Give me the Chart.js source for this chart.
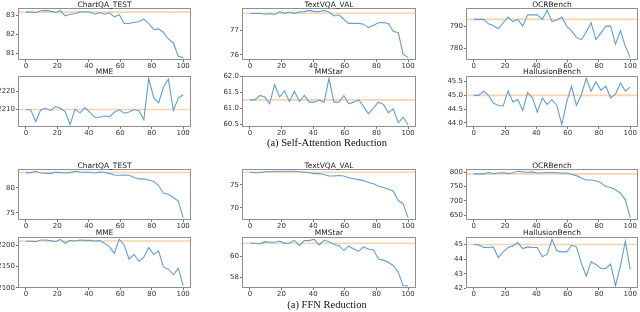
<!DOCTYPE html>
<html>
<head>
<meta charset="utf-8">
<script src="https://cdn.jsdelivr.net/npm/chart.js@4/dist/chart.umd.min.js"></script>
<style>
body { margin:0; width:640px; height:312px; overflow:hidden; background:#fff; position:relative; }
canvas { position:absolute; }
.titulo { position:absolute; font-family:"DejaVu Sans"; font-size:7.5px; color:#222; text-align:center; line-height:9px; }
.legenda { position:absolute; font-family:"Liberation Serif"; font-size:10.5px; color:#111; text-align:center; width:300px; line-height:12px; }
</style>
</head>
<body>
<script>
// dados
const passos = [0, 3.1, 6.3, 9.4, 12.5, 15.6, 18.8, 21.9, 25, 28.1, 31.3, 34.4, 37.5, 40.6, 43.8, 46.9,
  50, 53.1, 56.3, 59.4, 62.5, 65.6, 68.8, 71.9, 75, 78.1, 81.3, 84.4, 87.5, 90.6, 93.8, 96.9, 100]
const xTicks = [0, 20, 40, 60, 80, 100]

// Self-Attention
const sa_chartqa = [83.16, 83.16, 83.14, 83.23, 83.25, 83.21, 83.14, 83.23, 82.96, 83.05, 83.07, 83.18, 83.18, 83.16, 83.05, 83.14,
  83.05, 83.12, 82.91, 83.02, 82.56, 82.56, 82.63, 82.65, 82.79, 82.56, 82.25, 82.28, 82.09, 81.75, 81.54, 80.84, 80.77]
const sa_textvqa = [77.68, 77.68, 77.69, 77.65, 77.67, 77.64, 77.76, 77.69, 77.74, 77.69, 77.75, 77.76, 77.81, 77.76, 77.76, 77.81,
  77.74, 77.58, 77.63, 77.44, 77.28, 77.28, 77.28, 77.25, 77.11, 77.21, 77.31, 77.32, 77.28, 76.96, 76.90, 76.03, 75.89]
const sa_ocr = [793, 793, 793, 791, 790.3, 788.8, 791.5, 794, 792, 793, 790, 795, 795, 795, 793, 797,
  792, 792.7, 794, 790, 788, 785, 784, 787.4, 791.5, 784, 787, 790, 790, 782, 788, 781, 776]
const sa_mme = [2210, 2209.8, 2203.5, 2209.8, 2210.7, 2209.5, 2211.6, 2210.7, 2208.9, 2201.8, 2210.2, 2208.2, 2210.9, 2208.6, 2205.8, 2205.8,
  2206.5, 2206.2, 2208.5, 2210, 2208, 2208.7, 2210, 2209.3, 2204.5, 2226.9, 2216.4, 2213.6, 2222.2, 2226.5, 2209.5, 2216.2, 2218]
const sa_mmstar = [61.26, 61.26, 61.40, 61.35, 61.14, 61.74, 61.35, 61.54, 61.21, 61.53, 61.21, 61.40, 61.19, 61.19, 61.26, 61.19,
  61.94, 61.19, 61.19, 61.40, 61.14, 61.19, 61.26, 61.05, 60.82, 61.01, 61.19, 61.12, 60.86, 60.98, 60.54, 60.72, 60.48]
const sa_hallusion = [45.0, 45.0, 45.15, 45.0, 44.72, 44.63, 44.61, 45.16, 44.76, 44.85, 44.45, 45.1, 44.91, 44.39, 44.9, 44.67,
  44.84, 44.63, 43.93, 44.76, 45.33, 44.63, 45.02, 45.62, 45.15, 45.49, 45.18, 45.33, 44.91, 45.04, 45.45, 45.15, 45.3]

// FFN
const ffn_chartqa = [83.07, 83.07, 83.33, 83.0, 82.93, 82.87, 83.13, 83.07, 83.0, 83.07, 83.33, 83.2, 83.13, 83.13, 83.0, 83.2,
  83.13, 82.87, 82.6, 82.53, 82.6, 82.53, 82.07, 81.8, 81.8, 81.6, 81.27, 80.47, 78.93, 78.73, 78.07, 77.33, 74.0]
const ffn_textvqa = [77.7, 77.6, 77.6, 77.8, 77.8, 77.9, 77.9, 77.9, 77.9, 77.9, 77.8, 77.7, 77.6, 77.4, 77.4, 77.2,
  76.9, 76.9, 77.0, 76.9, 76.5, 76.3, 76.1, 75.9, 75.5, 75.2, 74.7, 74.4, 74.1, 73.6, 71.6, 70.9, 67.9]
const ffn_ocr = [794, 794, 794, 799, 795, 797, 799, 795, 798, 803, 801, 800, 801, 797, 798, 799,
  799, 798, 797, 797, 792, 788, 780, 773, 773, 770, 763, 750, 747, 739, 727, 704, 642]
const ffn_mme = [2209.3, 2209.3, 2208.5, 2212.4, 2212.4, 2210.9, 2208.5, 2214, 2204.7, 2211.6, 2210, 2212.4, 2211.6, 2211.6, 2210, 2210.9,
  2204.7, 2196.9, 2181.4, 2214, 2200.8, 2167.4, 2179, 2162, 2172, 2194.6, 2178.3, 2186.8, 2148.8, 2144.2, 2131, 2146.5, 2105.4]
const ffn_mmstar = [61.29, 61.29, 61.23, 61.45, 61.42, 61.39, 61.52, 61.29, 61.32, 61.58, 61.06, 61.55, 61.55, 61.68, 61.13, 61.58,
  61.45, 61.19, 61.06, 60.58, 61.03, 60.74, 60.52, 60.94, 60.74, 60.65, 59.77, 59.65, 59.45, 59.13, 58.48, 57.16, 57.16]
const ffn_hallusion = [45.0, 44.98, 44.8, 44.8, 44.84, 44.11, 44.5, 44.8, 44.91, 45.14, 44.73, 44.84, 44.8, 44.8, 44.16, 44.34,
  45.36, 44.57, 44.5, 44.5, 44.95, 44.84, 43.7, 42.84, 43.82, 43.64, 43.36, 43.36, 43.66, 42.18, 43.55, 45.23, 43.3]

const titulos = ['ChartQA_TEST', 'TextVQA_VAL', 'OCRBench', 'MME', 'MMStar', 'HallusionBench',
  'ChartQA_TEST', 'TextVQA_VAL', 'OCRBench', 'MME', 'MMStar', 'HallusionBench']
const series = [sa_chartqa, sa_textvqa, sa_ocr, sa_mme, sa_mmstar, sa_hallusion,
  ffn_chartqa, ffn_textvqa, ffn_ocr, ffn_mme, ffn_mmstar, ffn_hallusion]
const bases = [83.16, 77.69, 793, 2210, 61.26, 45.0, 83.1, 77.7, 794, 2210, 61.29, 45.0]
const yTicks = [[81, 82, 83], [76, 77], [780, 790], [2210, 2220], [60.5, 61.0, 61.5, 62.0], [44.0, 44.5, 45.0, 45.5],
  [75, 80], [70, 75], [650, 700, 750, 800], [2100, 2150, 2200], [58, 60], [42, 43, 44, 45]]
const decimais = [0, 0, 0, 0, 1, 1, 0, 0, 0, 0, 0, 0]
const legendas = ['(a) Self-Attention Reduction', '(a) FFN Reduction']

/*========================================================*/

// layout
const colunas = [[18, 191], [242, 416], [466, 638]]
const linhas = [[8, 60], [76, 127], [169, 220], [237, 288]]
const titulo_y = [4, 71, 165, 232]
const legenda_y = [143, 305]
const yW = 28, xH = 14, topo = 6, direita = 10

const moldura = {
  id: 'moldura',
  afterDraw(chart) {
    const a = chart.chartArea, c = chart.ctx
    c.save()
    c.strokeStyle = '#8f8f8f'
    c.lineWidth = 1
    c.strokeRect(Math.round(a.left) + 0.5, Math.round(a.top) + 0.5, Math.round(a.right - a.left) - 1, Math.round(a.bottom - a.top) - 1)
    c.restore()
  }
}

function desenha(i) {
  const col = colunas[i % 3], lin = linhas[Math.floor(i / 3)]
  const valores = series[i]
  const lo = Math.min(...valores), hi = Math.max(...valores), m = (hi - lo) * 0.05

  const cv = document.createElement('canvas')
  cv.width = yW + (col[1] - col[0]) + direita
  cv.height = topo + (lin[1] - lin[0]) + xH
  cv.style.left = (col[0] - yW) + 'px'
  cv.style.top = (lin[0] - topo) + 'px'
  document.body.appendChild(cv)

  const t = document.createElement('div')
  t.className = 'titulo'
  t.textContent = titulos[i]
  t.style.left = col[0] + 'px'
  t.style.width = (col[1] - col[0]) + 'px'
  t.style.top = (titulo_y[Math.floor(i / 3)] - 4.5) + 'px'
  document.body.appendChild(t)

  const fonte = { family: 'DejaVu Sans', size: 7 }

  new Chart(cv, {
    type: 'line',
    data: {
      datasets: [
        { data: passos.map((x, k) => ({ x: x, y: valores[k] })), borderColor: '#5f9fd6', borderWidth: 1.1, pointRadius: 0, tension: 0 },
        { data: [{ x: -5, y: bases[i] }, { x: 105, y: bases[i] }], borderColor: '#fdd3ad', borderWidth: 1.6, pointRadius: 0 }
      ]
    },
    options: {
      responsive: false,
      animation: false,
      events: [],
      layout: { padding: { top: topo, right: direita, left: 0, bottom: 0 } },
      plugins: { legend: { display: false }, tooltip: { enabled: false } },
      scales: {
        x: {
          type: 'linear', min: -5, max: 105,
          afterBuildTicks: s => { s.ticks = xTicks.map(v => ({ value: v })) },
          afterFit: s => { s.height = xH },
          border: { display: false },
          grid: { drawOnChartArea: false, tickLength: 2, color: '#777' },
          ticks: { padding: 0, font: fonte, color: '#333', maxRotation: 0, autoSkip: false }
        },
        y: {
          min: lo - m, max: hi + m,
          afterBuildTicks: s => { s.ticks = yTicks[i].map(v => ({ value: v })) },
          afterFit: s => { s.width = yW },
          border: { display: false },
          grid: { drawOnChartArea: false, tickLength: 2, color: '#777' },
          ticks: { padding: 1, font: fonte, color: '#333', autoSkip: false, callback: v => Number(v).toFixed(decimais[i]) }
        }
      }
    },
    plugins: [moldura]
  })
}

for (let i = 0; i < 12; i++) {
  desenha(i)
}

// saida
legendas.forEach((txt, k) => {
  const d = document.createElement('div')
  d.className = 'legenda'
  d.textContent = txt
  d.style.left = (327 - 150) + 'px'
  d.style.top = (legenda_y[k] - 6) + 'px'
  document.body.appendChild(d)
})
</script>
</body>
</html>
